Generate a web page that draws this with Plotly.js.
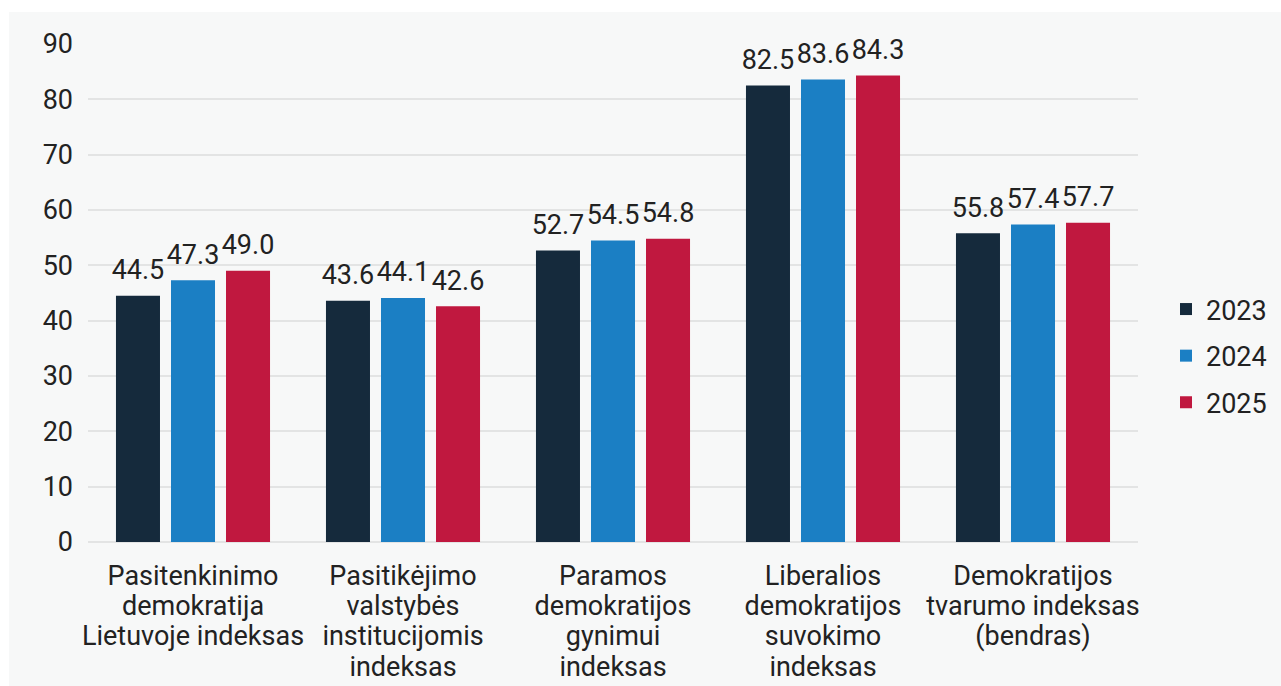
<!DOCTYPE html>
<html>
<head>
<meta charset="utf-8">
<script src="https://cdn.plot.ly/plotly-3.0.1.min.js"></script>
<style>
  html, body { margin:0; padding:0; background:#ffffff; width:1281px; height:686px; overflow:hidden; }
  #bg { position:absolute; left:9px; top:12px; width:1272px; height:674px; background:#f7f8f8; }
  #chart { position:absolute; left:0; top:0; width:1281px; height:686px; }
</style>
</head>
<body>
<div id="bg"></div>
<div id="chart"></div>
<script>
const categories = [
  "Pasitenkinimo<br>demokratija<br>Lietuvoje indeksas",
  "Pasitikėjimo<br>valstybės<br>institucijomis<br>indeksas",
  "Paramos<br>demokratijos<br>gynimui<br>indeksas",
  "Liberalios<br>demokratijos<br>suvokimo<br>indeksas",
  "Demokratijos<br>tvarumo indeksas<br>(bendras)"
];
const seriesNames = ["2023", "2024", "2025"];
const values2023 = [44.5, 43.6, 52.7, 82.5, 55.8];
const values2024 = [47.3, 44.1, 54.5, 83.6, 57.4];
const values2025 = [49.0, 42.6, 54.8, 84.3, 57.7];
const yTicks = [0, 10, 20, 30, 40, 50, 60, 70, 80, 90];

const colors = ["#152a3c", "#1b7fc4", "#c0183f"];
const allValues = [values2023, values2024, values2025];
const fontFamily = "Roboto, 'Noto Sans', sans-serif";
const textColor = "#222222";
const FS = 27;

const barTraces = allValues.map((vals, i) => ({
  type: "bar",
  name: seriesNames[i],
  legendgroup: "g" + i,
  offsetgroup: "o" + i,
  x: categories,
  y: vals,
  marker: { color: colors[i] },
  hoverinfo: "none"
}));

const labelTraces = allValues.map((vals, i) => ({
  type: "scatter",
  mode: "markers+text",
  showlegend: false,
  offsetgroup: "o" + i,
  x: categories,
  y: vals,
  marker: { size: 14, color: "rgba(0,0,0,0)" },
  text: vals.map(v => v.toFixed(1)),
  textposition: "top center",
  textfont: { family: fontFamily, size: FS, color: textColor },
  cliponaxis: false,
  hoverinfo: "none"
}));

const layout = {
  width: 1281,
  height: 686,
  paper_bgcolor: "rgba(0,0,0,0)",
  plot_bgcolor: "rgba(0,0,0,0)",
  margin: { l: 88, r: 143, t: 44, b: 144 },
  font: { family: fontFamily, size: FS, color: textColor },
  barmode: "group",
  scattermode: "group",
  bargap: 0.214,
  scattergap: 0.214,
  bargroupgap: 0.2,
  showlegend: true,
  legend: {
    xref: "container", yref: "container",
    x: 1166 / 1281, y: 1 - 356 / 686,
    xanchor: "left", yanchor: "middle",
    bgcolor: "rgba(0,0,0,0)",
    font: { family: fontFamily, size: FS, color: textColor },
    traceorder: "grouped",
    tracegroupgap: 8.5
  },
  xaxis: {
    type: "category",
    showgrid: false,
    zeroline: false,
    showline: false,
    ticks: "",
    tickangle: 0,
    ticklabelstandoff: 15,
    tickfont: { family: fontFamily, size: FS, color: textColor }
  },
  yaxis: {
    range: [0, 90],
    tickvals: yTicks,
    showgrid: true,
    gridcolor: "#e3e4e4",
    gridwidth: 2,
    zeroline: true,
    zerolinecolor: "#e3e4e4",
    zerolinewidth: 2,
    showline: false,
    ticks: "",
    ticklabelstandoff: 14,
    tickfont: { family: fontFamily, size: FS, color: textColor }
  }
};

function tightenLines(gd) {
  const k = 1.12 / 1.3;
  gd.querySelectorAll(".xtick text tspan.line").forEach(t => {
    const dy = t.getAttribute("dy");
    if (dy && dy.endsWith("em")) {
      const v = parseFloat(dy);
      t.setAttribute("dy", (v * k) + "em");
    }
  });
}

Plotly.newPlot("chart", barTraces.concat(labelTraces), layout, { displayModeBar: false, staticPlot: true })
  .then(gd => tightenLines(gd));
</script>
</body>
</html>
